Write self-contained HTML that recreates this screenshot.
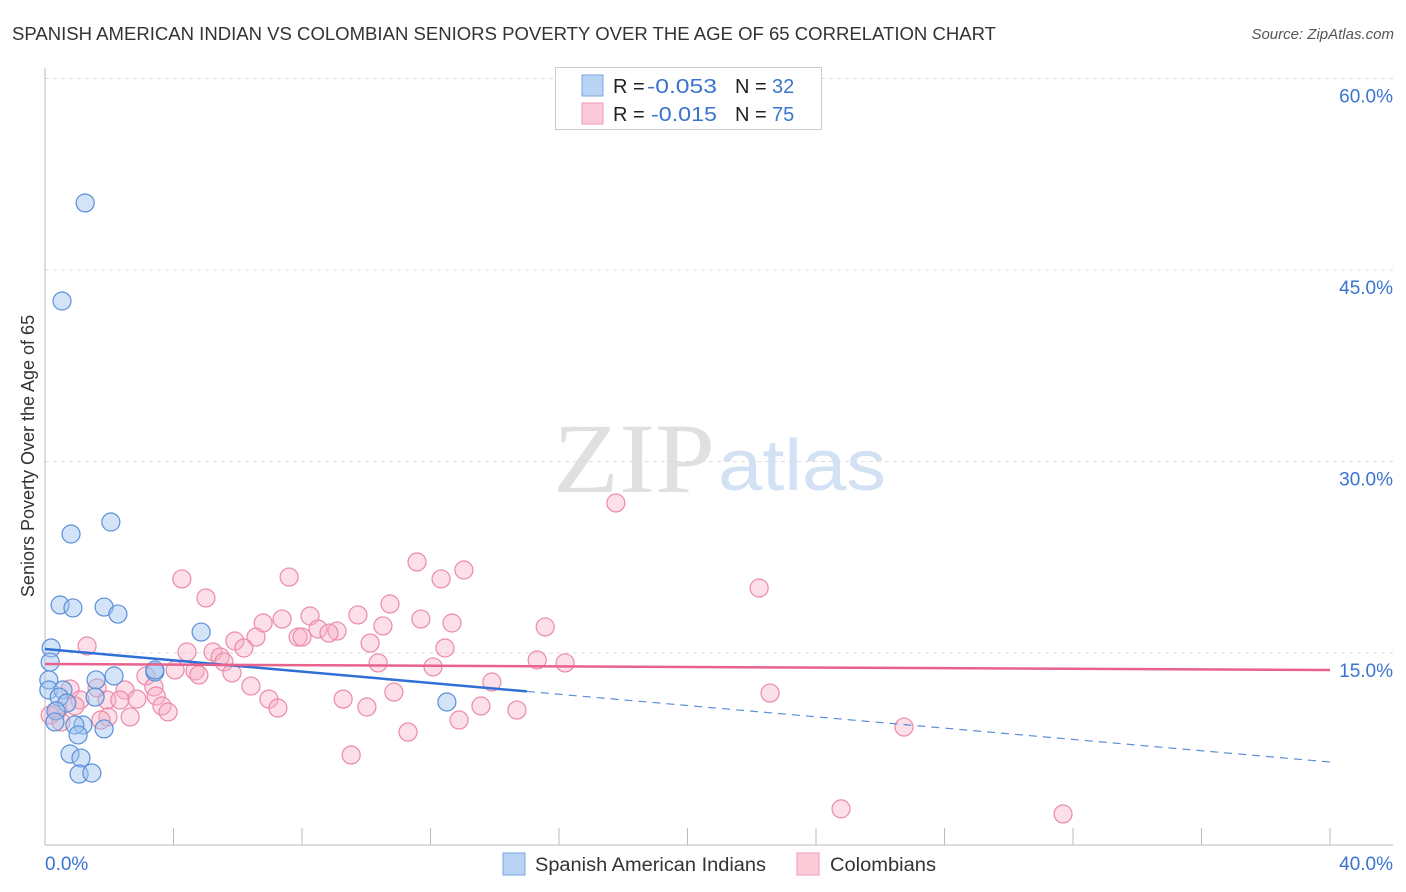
<!DOCTYPE html>
<html><head><meta charset="utf-8"><style>
body{margin:0;background:#fff;font-family:"Liberation Sans",sans-serif}
svg{display:block}
</style></head><body>
<svg id="chart" width="1406" height="892" xmlns="http://www.w3.org/2000/svg">
<text x="12" y="40" font-size="18" fill="#333" textLength="984" lengthAdjust="spacingAndGlyphs">SPANISH AMERICAN INDIAN VS COLOMBIAN SENIORS POVERTY OVER THE AGE OF 65 CORRELATION CHART</text>
<text x="1394" y="39" font-size="15" fill="#555" font-style="italic" text-anchor="end">Source: ZipAtlas.com</text>
<g>
<text x="553" y="492" font-family="Liberation Serif,serif" font-size="100" fill="#e0e0e0" textLength="162" lengthAdjust="spacingAndGlyphs">ZIP</text>
<text x="718" y="490" font-size="72" fill="#d3e1f5" textLength="168" lengthAdjust="spacingAndGlyphs">atlas</text>
</g>
<text transform="translate(34,456) rotate(-90)" font-size="18" fill="#333" text-anchor="middle">Seniors Poverty Over the Age of 65</text>
<g id="grid"></g><g id="axes"></g><g id="pts"></g><g id="trend"></g>
<g>
<rect x="555.5" y="67.5" width="266" height="62" fill="#fff" stroke="#ccc"/>
<rect x="582" y="75" width="21" height="21" fill="#b9d3f5" stroke="#7aa6e0"/>
<rect x="582" y="103" width="21" height="21" fill="#fcc9d8" stroke="#ef9ab4"/>
<text x="613" y="93" font-size="20" fill="#222">R = <tspan x="647" fill="#3b74d0" textLength="70" lengthAdjust="spacingAndGlyphs">-0.053</tspan><tspan x="735">N = </tspan><tspan x="772" fill="#3b74d0">32</tspan></text>
<text x="613" y="121" font-size="20" fill="#222">R = <tspan x="651" fill="#3b74d0" textLength="66" lengthAdjust="spacingAndGlyphs">-0.015</tspan><tspan x="735">N = </tspan><tspan x="772" fill="#3b74d0">75</tspan></text>
</g>
<g>
<rect x="503" y="853" width="22" height="22" fill="#b9d3f5" stroke="#7aa6e0"/>
<text x="535" y="871" font-size="19" fill="#333" textLength="231" lengthAdjust="spacingAndGlyphs">Spanish American Indians</text>
<rect x="797" y="853" width="22" height="22" fill="#fcc9d8" stroke="#ef9ab4"/>
<text x="830" y="871" font-size="19" fill="#333" textLength="106" lengthAdjust="spacingAndGlyphs">Colombians</text>
</g>
</svg>
<script>
const blueX=[1.25,0.53,0.81,2.05,0.47,0.87,1.84,2.27,0.19,0.16,4.86,3.42,2.15,1.59,0.12,0.12,0.56,0.44,1.56,0.68,0.34,0.31,1.18,0.93,1.84,1.03,0.78,1.12,1.06,1.46,12.51,3.42];
const blueY=[50.25,42.57,24.32,25.26,18.76,18.53,18.60,18.05,15.39,14.29,16.64,13.51,13.20,12.89,12.89,12.10,12.10,11.55,11.55,11.08,10.46,9.60,9.36,9.36,9.05,8.58,7.09,6.77,5.52,5.60,11.16,13.67];
const pinkX=[17.77,11.58,13.04,12.33,4.26,7.60,22.23,5.01,10.74,9.74,8.25,11.70,7.38,12.67,15.57,10.52,6.79,5.91,9.09,8.50,8.84,7.88,8.00,6.57,10.12,6.19,12.45,1.31,4.42,5.23,5.45,5.57,15.32,16.19,10.37,12.08,4.05,4.67,4.79,3.14,5.82,13.91,1.62,2.49,3.39,6.41,10.86,22.57,0.78,1.93,2.86,3.46,2.33,9.28,6.97,10.02,13.57,14.69,7.25,3.64,3.83,1.96,2.65,12.89,1.74,0.40,0.16,0.50,26.74,11.30,9.53,24.78,31.69,1.09,0.93];
const pinkY=[26.75,22.13,21.50,20.80,20.80,20.95,20.09,19.31,18.84,17.98,17.90,17.66,17.66,17.35,17.04,17.12,17.35,15.94,16.72,16.88,16.56,16.25,16.25,16.25,15.78,15.39,15.39,15.55,15.08,15.08,14.69,14.30,14.45,14.22,14.22,13.91,13.67,13.59,13.28,13.20,13.44,12.73,12.26,12.10,12.34,12.41,11.94,11.86,12.18,11.32,11.39,11.63,11.32,11.39,11.39,10.77,10.85,10.53,10.69,10.85,10.38,9.99,9.99,9.75,9.75,10.53,10.14,9.60,9.20,8.81,7.01,2.79,2.39,11.32,10.85];
const yTicks=[15,30,45,60];
const xTickVals=[0,4,8,12,16,20,24,28,32,36,40];
const blueTrend=[15.31,6.46]; const blueSolidEnd=15.0;
const pinkTrend=[14.14,13.67];
const NS="http://www.w3.org/2000/svg";
const X=v=>45+v/40*1285, Y=v=>844.5-v/15*191.5;
function mk(p,t,a){const e=document.createElementNS(NS,t);for(const k in a)e.setAttribute(k,a[k]);document.getElementById(p).appendChild(e);return e;}
yTicks.forEach(t=>{
 const l=mk('grid','line',{x1:45,x2:1393,y1:Y(t),y2:Y(t),stroke:'#ddd','stroke-dasharray':'4,4'});
 
 
 const s=mk('grid','text',{x:1393,y:Y(t)+24,'font-size':19,fill:'#3b74d0','text-anchor':'end'});
 s.textContent=t.toFixed(1)+'%';
 
 
});
let a=mk('axes','line',{x1:45,x2:45,y1:68,y2:845,stroke:'#bbb'});


a=mk('axes','line',{x1:45,x2:1393,y1:845,y2:845,stroke:'#bbb'});


xTickVals.forEach(t=>{
 const l=mk('axes','line',{x1:X(t),x2:X(t),y1:828,y2:845,stroke:'#bbb'});
 
 
});
[[0,'start',45],[40,'end',1393]].forEach(([v,an,px])=>{
 const s=mk('axes','text',{x:px,y:870,'font-size':19,fill:'#3b74d0','text-anchor':an});
 s.textContent=v.toFixed(1)+'%';
 
 
});
pinkX.forEach((v,i)=>{
 const c=mk('pts','circle',{cx:X(v),cy:Y(pinkY[i]),r:9,fill:'rgba(248,175,198,0.4)',stroke:'#eb8aa8','stroke-width':1.2});
 
 
});
blueX.forEach((v,i)=>{
 const c=mk('pts','circle',{cx:X(v),cy:Y(blueY[i]),r:9,fill:'rgba(160,195,240,0.45)',stroke:'#5b8fd8','stroke-width':1.2});
 
 
});
const bAt=x=>blueTrend[0]+(blueTrend[1]-blueTrend[0])*x/40;
let t=mk('trend','line',{x1:X(0),y1:Y(bAt(0)),x2:X(blueSolidEnd),y2:Y(bAt(blueSolidEnd)),stroke:'#2f6fd6','stroke-width':2.5});


t=mk('trend','line',{x1:X(blueSolidEnd),y1:Y(bAt(blueSolidEnd)),x2:X(40),y2:Y(bAt(40)),stroke:'#5b8fd8','stroke-width':1.2,'stroke-dasharray':'8,6'});


t=mk('trend','line',{x1:X(0),y1:Y(pinkTrend[0]),x2:X(40),y2:Y(pinkTrend[1]),stroke:'#e8628c','stroke-width':2.5});


</script>
</body></html>
